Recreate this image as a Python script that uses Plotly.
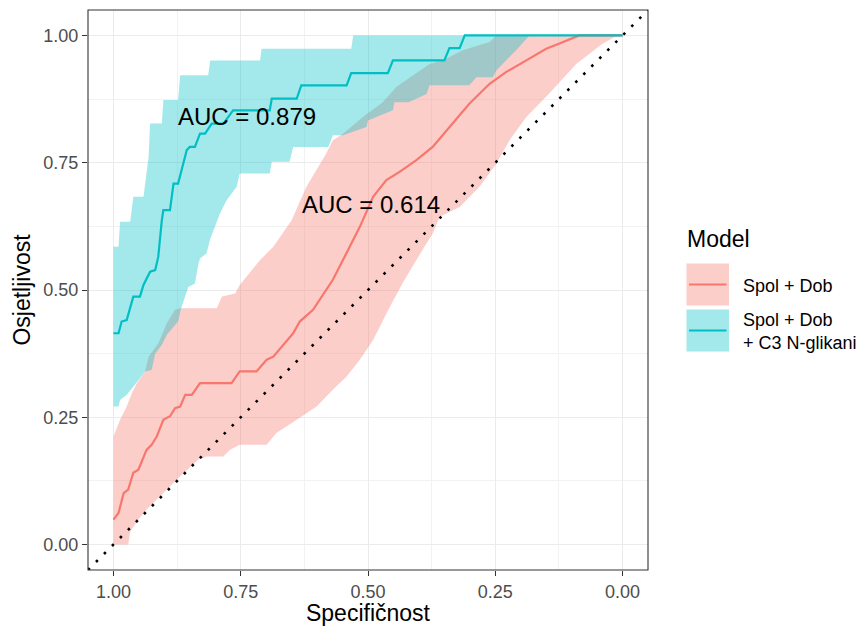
import plotly.graph_objects as go

# ---------------- data ----------------
# Model "Spol + Dob" (reference model)
base_spec = [1.0, 0.990, 0.980, 0.971, 0.961, 0.951, 0.935, 0.925, 0.915, 0.902, 0.889, 0.879,
             0.869, 0.859, 0.846, 0.830, 0.768, 0.752, 0.719, 0.699, 0.686, 0.647, 0.634,
             0.608, 0.569, 0.536, 0.516, 0.490, 0.464, 0.438, 0.405, 0.373, 0.340, 0.301,
             0.261, 0.229, 0.189, 0.150, 0.124, 0.085, 0.0]
base_sens = [0.049, 0.062, 0.101, 0.108, 0.141, 0.147, 0.186, 0.196, 0.212, 0.245, 0.252, 0.268,
             0.271, 0.294, 0.294, 0.317, 0.317, 0.340, 0.340, 0.363, 0.369, 0.415, 0.438,
             0.461, 0.520, 0.585, 0.624, 0.683, 0.716, 0.732, 0.755, 0.781, 0.820, 0.866,
             0.905, 0.928, 0.951, 0.974, 0.984, 1.0, 1.0]

base_up_spec = [1.0, 0.987, 0.974, 0.964, 0.954, 0.938, 0.931, 0.912, 0.895, 0.879, 0.868,
                0.797, 0.787, 0.761, 0.752, 0.712, 0.686, 0.650, 0.621, 0.582, 0.569, 0.549,
                0.510, 0.471, 0.444, 0.405, 0.379, 0.353, 0.314, 0.261, 0.248, 0.0]
base_up_sens = [0.212, 0.245, 0.271, 0.297, 0.317, 0.340, 0.369, 0.395, 0.435, 0.461, 0.464,
                0.464, 0.487, 0.493, 0.510, 0.559, 0.585, 0.637, 0.703, 0.768, 0.794, 0.807,
                0.840, 0.869, 0.899, 0.925, 0.944, 0.951, 0.971, 0.987, 1.0, 1.0]

base_lo_spec = [1.0, 0.971, 0.967, 0.951, 0.935, 0.902, 0.869, 0.833, 0.817, 0.784, 0.771,
                0.752, 0.699, 0.680, 0.640, 0.601, 0.569, 0.542, 0.516, 0.490, 0.457, 0.431,
                0.405, 0.373, 0.359, 0.320, 0.281, 0.248, 0.222, 0.189, 0.144, 0.091, 0.039,
                0.010, 0.0]
base_lo_sens = [0.0, 0.0, 0.026, 0.049, 0.069, 0.101, 0.134, 0.167, 0.173, 0.173, 0.186,
                0.196, 0.196, 0.219, 0.245, 0.271, 0.304, 0.330, 0.363, 0.402, 0.467, 0.515,
                0.559, 0.611, 0.644, 0.663, 0.703, 0.748, 0.794, 0.840, 0.886, 0.944, 0.984,
                1.0, 1.0]

# Model "Spol + Dob + C3 N-glikani"
glyc_spec = [1.0, 0.990, 0.984, 0.974, 0.961, 0.948, 0.941, 0.928, 0.918, 0.912, 0.905, 0.902,
             0.889, 0.882, 0.873, 0.856, 0.850, 0.840, 0.830, 0.820, 0.807, 0.784, 0.765,
             0.693, 0.689, 0.640, 0.631, 0.542, 0.533, 0.461, 0.451, 0.350, 0.340, 0.320,
             0.310, 0.0]
glyc_sens = [0.415, 0.415, 0.438, 0.441, 0.487, 0.487, 0.510, 0.536, 0.539, 0.565, 0.637, 0.657,
             0.657, 0.709, 0.709, 0.775, 0.781, 0.781, 0.807, 0.807, 0.827, 0.827, 0.853,
             0.853, 0.876, 0.876, 0.902, 0.902, 0.926, 0.926, 0.951, 0.951, 0.975, 0.975,
             1.0, 1.0]

glyc_up_spec = [1.0, 0.990, 0.987, 0.967, 0.961, 0.941, 0.931, 0.928, 0.905, 0.902, 0.873,
                0.869, 0.814, 0.810, 0.712, 0.709, 0.533, 0.529, 0.0]
glyc_up_sens = [0.585, 0.585, 0.634, 0.634, 0.683, 0.683, 0.761, 0.827, 0.827, 0.873, 0.873,
                0.922, 0.922, 0.951, 0.951, 0.974, 0.974, 1.0, 1.0]

glyc_lo_spec = [1.0, 0.990, 0.987, 0.974, 0.961, 0.938, 0.925, 0.918, 0.905, 0.895, 0.882,
                0.873, 0.867, 0.853, 0.840, 0.833, 0.830, 0.817, 0.810, 0.804, 0.791, 0.778,
                0.758, 0.752, 0.693, 0.689, 0.654, 0.647, 0.578, 0.569, 0.549, 0.503, 0.500,
                0.451, 0.448, 0.420, 0.385, 0.379, 0.301, 0.287, 0.255, 0.248, 0.209, 0.183,
                0.0]
glyc_lo_sens = [0.271, 0.271, 0.284, 0.294, 0.310, 0.340, 0.343, 0.375, 0.392, 0.412, 0.428,
                0.438, 0.464, 0.506, 0.513, 0.552, 0.562, 0.572, 0.600, 0.615, 0.650, 0.676,
                0.703, 0.729, 0.729, 0.752, 0.752, 0.781, 0.781, 0.804, 0.804, 0.820, 0.833,
                0.853, 0.869, 0.869, 0.885, 0.902, 0.902, 0.918, 0.918, 0.931, 0.971, 1.0,
                1.0]

# chance diagonal (sensitivity = 1 - specificity), spanning the expanded axis range
diag_spec = [1.05, -0.05]
diag_sens = [-0.05, 1.05]

model_names = ["Spol + Dob", "Spol + Dob<br>+ C3 N-glikani"]
auc_labels = ["AUC = 0.614", "AUC = 0.879"]
auc_pos_spec = [0.494, 0.737]
auc_pos_sens = [0.668, 0.840]

tick_vals = [1.0, 0.75, 0.5, 0.25, 0.0]
tick_text = ["1.00", "0.75", "0.50", "0.25", "0.00"]
minor_vals = [0.875, 0.625, 0.375, 0.125]

# ---------------- styling ----------------
PINK = "#F8766D"
TEAL = "#00BFC4"
PINK_FILL = "rgba(248,118,109,0.36)"
TEAL_FILL = "rgba(0,191,196,0.36)"
FONT = "Liberation Sans, Arial, sans-serif"

fig = go.Figure()

def ribbon(up_x, up_y, lo_x, lo_y, fill):
    xs = list(up_x) + list(reversed(lo_x))
    ys = list(up_y) + list(reversed(lo_y))
    return go.Scatter(x=xs, y=ys, mode="lines", fill="toself", fillcolor=fill,
                      line=dict(width=0), hoverinfo="skip", showlegend=False)

fig.add_trace(ribbon(base_up_spec, base_up_sens, base_lo_spec, base_lo_sens, PINK_FILL))
fig.add_trace(ribbon(glyc_up_spec, glyc_up_sens, glyc_lo_spec, glyc_lo_sens, TEAL_FILL))

fig.add_trace(go.Scatter(x=base_spec, y=base_sens, mode="lines",
                         line=dict(color=PINK, width=2.2), showlegend=False))
fig.add_trace(go.Scatter(x=glyc_spec, y=glyc_sens, mode="lines",
                         line=dict(color=TEAL, width=2.2), showlegend=False))

fig.add_trace(go.Scatter(x=diag_spec, y=diag_sens, mode="lines",
                         line=dict(color="black", width=2.6, dash="2.6px,8.7px"),
                         showlegend=False, hoverinfo="skip"))

annotations = []
for t, xs, ys in zip(auc_labels, auc_pos_spec, auc_pos_sens):
    annotations.append(dict(x=xs, y=ys, xref="x", yref="y", text=t, showarrow=False,
                            font=dict(family=FONT, size=24, color="black"),
                            xanchor="center", yanchor="middle"))

# ---------- manual ggplot-style legend (paper coordinates) ----------
W, H = 862, 626
ML, MR, MT, MB = 88, 214, 10, 56
PW, PH = W - ML - MR, H - MT - MB

def px2x(px):
    return (px - ML) / PW

def py2y(py):
    return (H - MB - py) / PH

annotations.append(dict(x=px2x(685), y=py2y(239), xref="paper", yref="paper",
                        text="Model", showarrow=False, xanchor="left", yanchor="middle",
                        font=dict(family=FONT, size=23, color="black")))

shapes = []
key_tops = [263.5, 309.5]
key_cols = [(PINK_FILL, PINK), (TEAL_FILL, TEAL)]
label_centers = [285.5, 331.5]
for (fillc, linec), top, lc, name in zip(key_cols, key_tops, label_centers, model_names):
    shapes.append(dict(type="rect", xref="paper", yref="paper",
                       x0=px2x(686.5), x1=px2x(729), y0=py2y(top + 42), y1=py2y(top),
                       fillcolor=fillc, line=dict(width=0), layer="above"))
    shapes.append(dict(type="line", xref="paper", yref="paper",
                       x0=px2x(689), x1=px2x(726.5), y0=py2y(top + 21), y1=py2y(top + 21),
                       line=dict(color=linec, width=2.2), layer="above"))
    annotations.append(dict(x=px2x(741), y=py2y(lc), xref="paper", yref="paper",
                            text=name, showarrow=False, xanchor="left", yanchor="middle",
                            align="left",
                            font=dict(family=FONT, size=18, color="black")))

# panel border
shapes.append(dict(type="rect", xref="paper", yref="paper", x0=0, x1=1, y0=0, y1=1,
                   line=dict(color="#333333", width=1.1), fillcolor="rgba(0,0,0,0)",
                   layer="above"))

axis_common = dict(
    tickvals=tick_vals, ticktext=tick_text,
    ticks="outside", ticklen=5, tickwidth=1.1, tickcolor="#333333",
    tickfont=dict(family=FONT, size=18, color="#4D4D4D"),
    showgrid=True, gridcolor="#EBEBEB", gridwidth=1.1,
    zeroline=False, showline=False,
    minor=dict(tickvals=minor_vals, showgrid=True, gridcolor="#F2F2F2", gridwidth=0.6,
               ticks=""),
)

fig.update_layout(
    width=W, height=H,
    margin=dict(l=ML, r=MR, t=MT, b=MB, autoexpand=False),
    paper_bgcolor="white", plot_bgcolor="white",
    xaxis=dict(range=[1.05, -0.05], automargin=False,
               title=dict(text="Specifičnost", standoff=4,
                          font=dict(family=FONT, size=23, color="black")),
               **axis_common),
    yaxis=dict(range=[-0.05, 1.05], automargin=False,
               title=dict(text="Osjetljivost", standoff=6,
                          font=dict(family=FONT, size=23, color="black")),
               **axis_common),
    annotations=annotations,
    shapes=shapes,
    showlegend=False,
)

fig.write_html("out.html",
               config={"displayModeBar": False},
               post_script="document.body.style.margin='0px';document.body.style.overflow='hidden';")
